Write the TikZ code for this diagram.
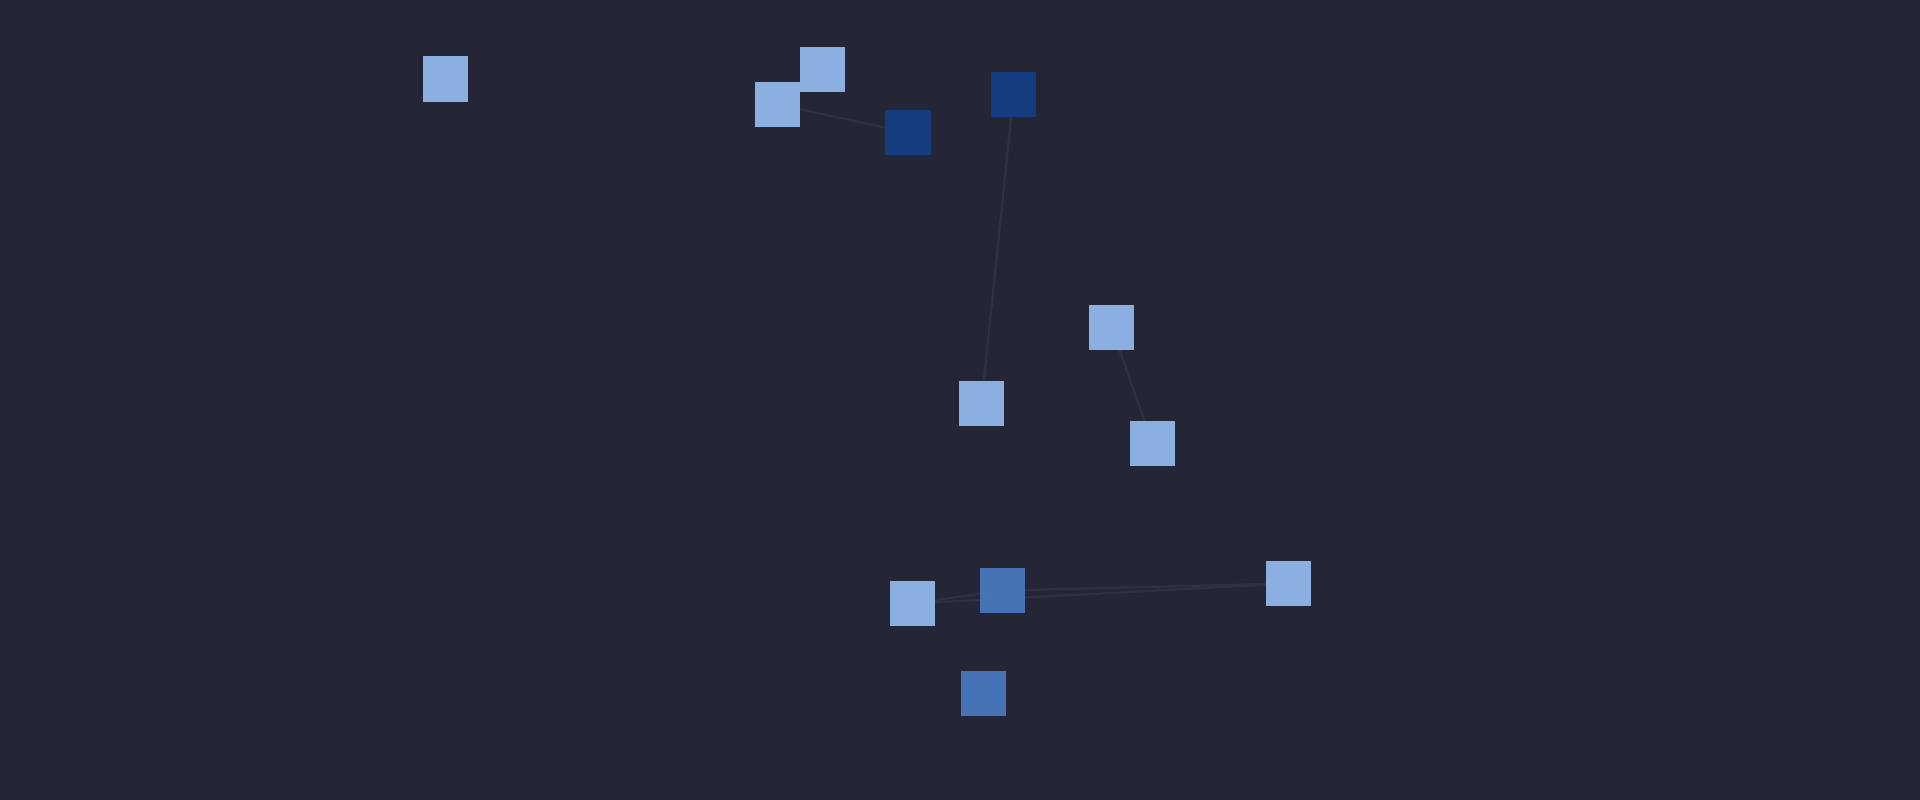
\documentclass[tikz,border=0pt]{standalone}
\definecolor{bg}{HTML}{242636}
\definecolor{lightn}{HTML}{8AAFE0}
\definecolor{darkn}{HTML}{134087}
\definecolor{midn}{HTML}{4878BC}
\definecolor{edgec}{HTML}{2E313F}
\pgfdeclarelayer{bgl}
\pgfdeclarelayer{edgel}
\pgfsetlayers{bgl,edgel,main}
\begin{document}
\begin{tikzpicture}[x=0.01cm,y=-0.01cm,
  box/.style={draw=none, minimum size=0.45cm, inner sep=0pt, outer sep=0pt},
  lbox/.style={box, fill=lightn},
  dbox/.style={box, fill=darkn, fill opacity=0.9},
  mbox/.style={box, fill=midn, fill opacity=0.95},
  link/.style={draw=edgec, line width=0.65pt}]
\begin{pgfonlayer}{bgl}
\fill[bg] (0,0) rectangle (1920,800);
\end{pgfonlayer}
\useasboundingbox (0,0) rectangle (1920,800);
\node[lbox] (L) at (445.5,79) {};
\node[lbox] (A) at (777.5,104.5) {};
\node[lbox] (B) at (822.5,69.5) {};
\node[dbox] (C) at (908,132.5) {};
\node[dbox] (D) at (1013.5,94.5) {};
\node[lbox] (E) at (1111.5,327.5) {};
\node[lbox] (F) at (981.5,403.5) {};
\node[lbox] (G) at (1152.5,443.5) {};
\node[lbox] (H) at (912.5,603.5) {};
\node[mbox] (I) at (1002.5,590.5) {};
\node[lbox] (J) at (1288.5,583.5) {};
\node[mbox] (K) at (983.5,693.5) {};
\begin{pgfonlayer}{edgel}
\draw[link] (A.center) -- (C.center);
\draw[link] (D.center) -- (F.center);
\draw[link] (E.center) -- (G.center);
\draw[link] (H.center) -- (I.center);
\draw[link] (I.center) -- (J.center);
\draw[link] (H.center) -- (J.center);
\end{pgfonlayer}
\end{tikzpicture}
\end{document}
